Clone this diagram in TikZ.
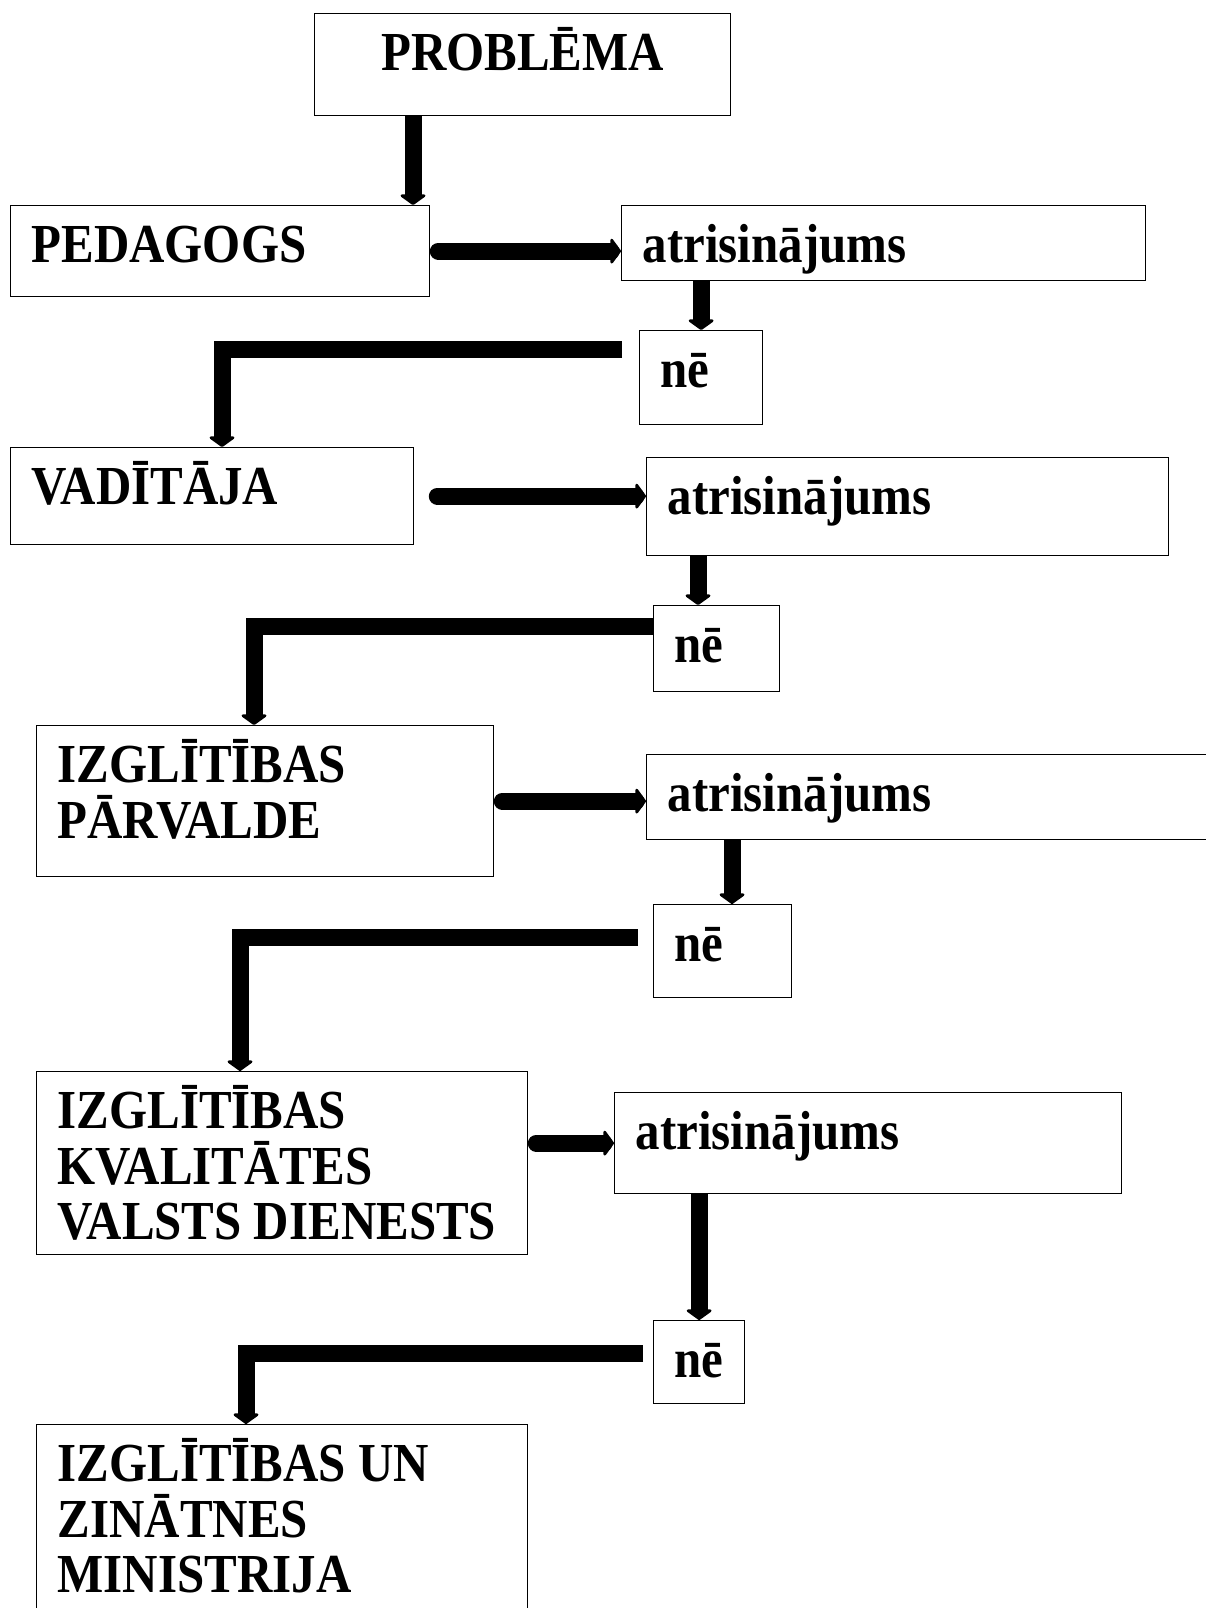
\documentclass[tikz,border=0pt]{standalone}
\usepackage{fontspec}
\setmainfont{Liberation Serif}[FakeStretch=0.89]
\usepackage{tikz}
\usetikzlibrary{arrows.meta}
\tikzstyle{kaste} = [rectangle, draw=black, line width=1.3pt, inner xsep=21pt, inner ysep=0pt, anchor=north west, font=\bfseries\fontsize{55}{55.5}\selectfont]
\tikzstyle{strela} = [line width=17pt, -{Triangle[width=30pt,length=11pt,round]}]
\tikzstyle{lauzta} = [line width=17pt, miter limit=4, -{Triangle[width=30pt,length=11pt,round]}]
\newcommand{\saturs}[3]{\parbox[c][#2][t]{#1}{\raggedright\rule{0pt}{57pt}#3}}

\begin{document}
\begin{tikzpicture}[x=1pt, y=-1pt]
\useasboundingbox (0,0) rectangle (1206,1608);

\node (prob) [kaste] at (314,13) {\parbox[c][102pt][t]{374pt}{\centering\rule{0pt}{57pt}PROBLĒMA}};

\node (ped) [kaste] at (10,205) {\saturs{377pt}{91pt}{PEDAGOGS}};
\node (atr1) [kaste] at (621,205) {\saturs{482pt}{75pt}{atrisinājums}};
\node (ne1) [kaste] at (639,330) {\saturs{81pt}{94pt}{nē}};

\node (vad) [kaste] at (10,447) {\saturs{361pt}{97pt}{VADĪTĀJA}};
\node (atr2) [kaste] at (646,457) {\saturs{480pt}{98pt}{atrisinājums}};
\node (ne2) [kaste] at (653,605) {\saturs{84pt}{86pt}{nē}};

\node (ip) [kaste] at (36,725) {\saturs{415pt}{151pt}{IZGLĪTĪBAS\\PĀRVALDE}};
\node (atr3) [kaste] at (646,754) {\saturs{532pt}{85pt}{atrisinājums}};
\node (ne3) [kaste] at (653,904) {\saturs{96pt}{93pt}{nē}};

\node (ikvd) [kaste] at (36,1071) {\saturs{449pt}{183pt}{IZGLĪTĪBAS\\KVALITĀTES\\VALSTS DIENESTS}};
\node (atr4) [kaste] at (614,1092) {\saturs{465pt}{101pt}{atrisinājums}};
\node (ne4) [kaste] at (653,1320) {\saturs{49pt}{83pt}{nē}};

\node (izm) [kaste] at (36,1424) {\saturs{449pt}{196pt}{IZGLĪTĪBAS UN\\ZINĀTNES\\MINISTRIJA}};

\draw [strela] ([xshift=99pt]prob.south west) -- ([xshift=99pt]prob.south west |- ped.north);
\draw [strela, line cap=round] ([xshift=8pt]ped.east) -- (ped.east -| atr1.west);
\draw [strela] (atr1.south -| ne1.north) -- (ne1.north);
\draw [lauzta] ([xshift=-17pt,yshift=-19pt]ne1.north west) -| ([xshift=212pt]vad.north west);

\draw [strela, line cap=round] ([xshift=23pt]vad.east) -- (vad.east -| atr2.west);
\draw [strela] ([xshift=52pt]atr2.south west) -- ([xshift=52pt]atr2.south west |- ne2.north);
\draw [lauzta] ([yshift=-21pt]ne2.north west) -| ([xshift=218pt]ip.north west);

\draw [strela, line cap=round] ([xshift=8pt]ip.east) -- (ip.east -| atr3.west);
\draw [strela] ([xshift=86pt]atr3.south west) -- ([xshift=86pt]atr3.south west |- ne3.north);
\draw [lauzta] ([xshift=-15pt,yshift=-33pt]ne3.north west) -| ([xshift=204pt]ikvd.north west);

\draw [strela, line cap=round] ([xshift=8pt]ikvd.east |- atr4.west) -- (atr4.west);
\draw [strela] (atr4.south -| ne4.north) -- (ne4.north);
\draw [lauzta] ([xshift=-10pt,yshift=-33pt]ne4.north west) -| ([xshift=210pt]izm.north west);
\end{tikzpicture}
\end{document}
